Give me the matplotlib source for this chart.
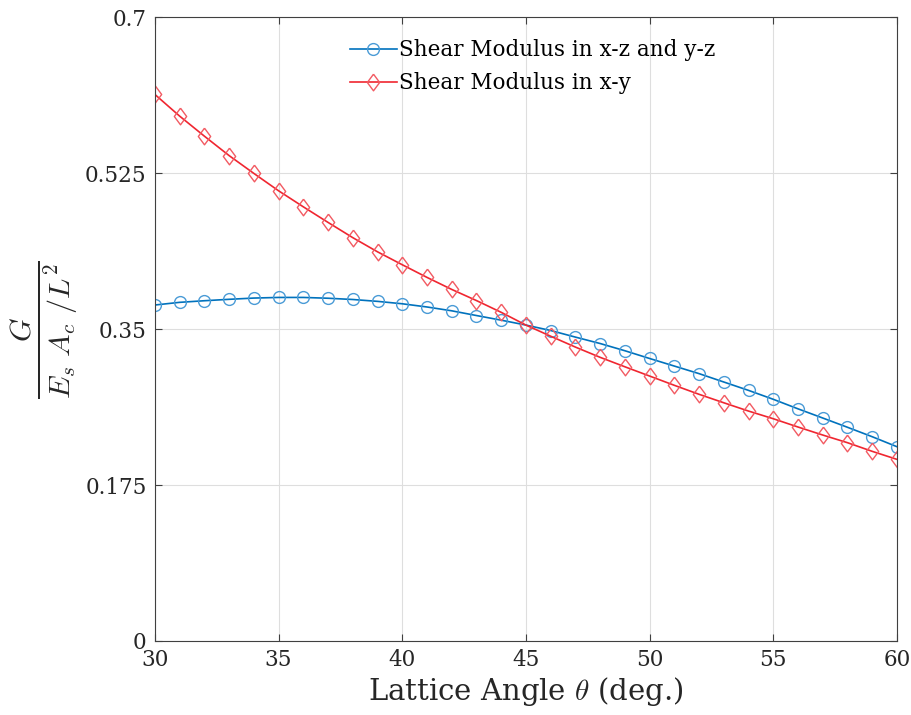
import numpy as np
import matplotlib
matplotlib.use("Agg")
import matplotlib.pyplot as plt

# lattice angle (deg.)
angle = list(range(30, 61))

# normalised shear modulus G / (Es Ac / L^2)
g_xz_yz = [0.3770, 0.3800, 0.3818, 0.3834, 0.3848, 0.3855, 0.3855, 0.3846, 0.3832,
           0.3811, 0.3784, 0.3748, 0.3705, 0.3652, 0.3600, 0.3545, 0.3484, 0.3410,
           0.3338, 0.3257, 0.3170, 0.3085, 0.3000, 0.2906, 0.2812, 0.2712, 0.2605,
           0.2502, 0.2398, 0.2292, 0.2180]
g_xy = [0.6133, 0.5890, 0.5665, 0.5447, 0.5247, 0.5052, 0.4872, 0.4697, 0.4526,
        0.4367, 0.4222, 0.4080, 0.3945, 0.3820, 0.3688, 0.3545, 0.3420, 0.3298,
        0.3183, 0.3077, 0.2973, 0.2869, 0.2768, 0.2673, 0.2580, 0.2494, 0.2401,
        0.2311, 0.2225, 0.2128, 0.2038]

yticks = [0, 0.175, 0.35, 0.525, 0.7]

plt.rcParams['font.family'] = ['DejaVu Serif']
plt.rcParams['mathtext.fontset'] = 'cm'

blue = '#0072BD'
red = '#F02630'

# MATLAB-style diamond (a bit wider than matplotlib's thin 'd')
diamond = [(0, 1), (0.74, 0), (0, -1), (-0.74, 0), (0, 1)]

fig = plt.figure(figsize=(9.11, 7.15), dpi=100)
ax = fig.add_axes([0.170, 0.1035, 0.8146, 0.8725])

ax.plot(angle, g_xz_yz, color=blue, lw=1.2, marker='o', ms=8.5,
        mfc='none', mec='#4A9BD6', mew=1.0, label='Shear Modulus in x-z and y-z')
ax.plot(angle, g_xy, color=red, lw=1.2, marker=diamond, ms=12,
        mfc='none', mec='#F25A62', mew=1.0, label='Shear Modulus in x-y')

ax.set_xlim(30, 60)
ax.set_ylim(0, 0.7)
ax.set_xticks(range(30, 61, 5))
ax.set_yticks(yticks)
ax.set_yticklabels(['0', '0.175', '0.35', '0.525', '0.7'])
ax.grid(True, color='#dedede', lw=0.8)
ax.set_axisbelow(True)
ax.tick_params(direction='in', top=True, right=True, length=5, labelsize=15.5,
               color='#404040', labelcolor='#262626', pad=6)
for s in ax.spines.values():
    s.set_color('#404040')
    s.set_linewidth(0.8)

ax.set_xlabel(r'Lattice Angle $\theta$ (deg.)', fontsize=21, color='#262626', labelpad=3)
ax.set_ylabel(r'$\frac{G}{E_s\ A_c\ /L^2}$', fontsize=31, color='#262626', labelpad=4)

leg = ax.legend(loc='upper left', bbox_to_anchor=(0.245, 0.985), frameon=False,
                fontsize=15.5, handlelength=2.2, handletextpad=0.1, labelspacing=0.5,
                borderaxespad=0.2)

fig.savefig('out.png', dpi=100)
